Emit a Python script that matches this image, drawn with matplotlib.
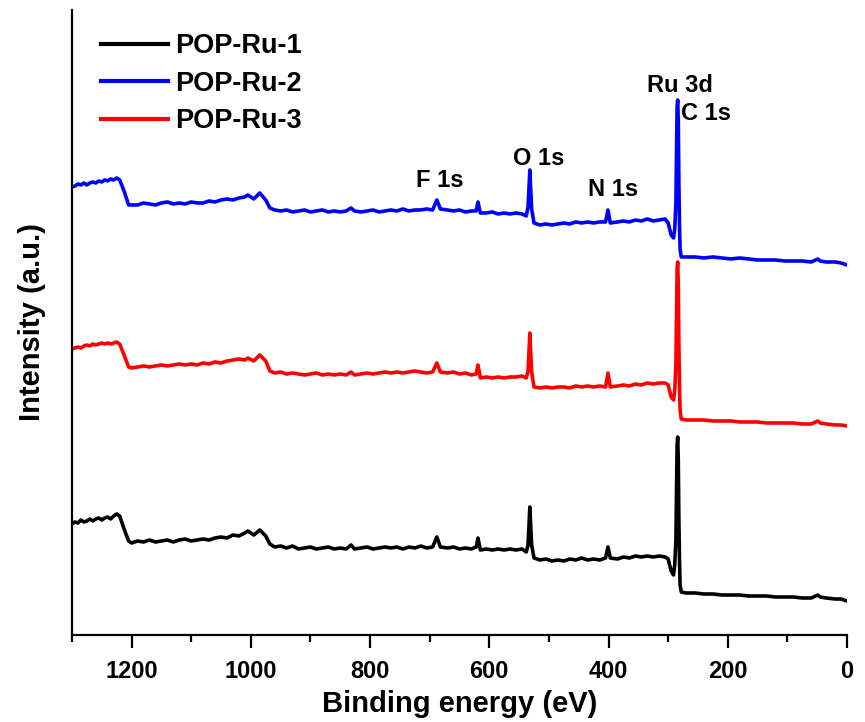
import matplotlib
matplotlib.use("Agg")
import matplotlib.pyplot as plt

plt.rcParams['font.family'] = ['Liberation Sans', 'DejaVu Sans']
plt.rcParams['font.weight'] = 'bold'

# Binding energy grid (eV), high to low
energy = [1300, 1295, 1290, 1285, 1280, 1275, 1270, 1265, 1260, 1255, 1250, 1245, 1240, 1235, 1230, 1225, 1220,
          1212, 1205, 1200, 1190, 1180, 1170, 1160, 1150, 1140, 1130, 1120, 1110, 1100, 1090, 1080, 1070, 1060, 1050, 1040, 1030, 1020, 1010,
          1005, 995, 985, 975, 968, 960, 950, 940, 930, 920, 910, 900, 890, 880, 870, 860, 850, 840, 832, 826,
          815, 805, 795, 785, 775, 765, 755, 745, 735, 725, 715, 705, 695, 688, 682,
          670, 660, 650, 640, 630, 622, 619, 615, 605, 595, 585, 575, 565, 555, 545, 538, 535, 532, 529, 525,
          515, 505, 495, 485, 475, 465, 455, 445, 435, 425, 415, 405, 401, 397,
          385, 375, 365, 355, 345, 335, 325, 315, 305, 300, 295, 291, 289, 287, 286, 285, 284, 283, 282, 281, 280, 278,
          270, 255, 240, 225, 210, 195, 180, 165, 150, 135, 120, 105, 90, 75, 60, 49, 45, 35, 20, 10, 0]

# Survey intensities (a.u.)
pop_ru_1 = [116, 118, 117, 120, 118, 119, 121, 119, 121, 122, 120, 122, 123, 121, 124, 126, 124,
            110, 99, 97, 99, 98, 100, 98, 99, 100, 98, 100, 101, 99, 100, 101, 100, 102, 103, 102, 105, 104, 107,
            109, 105, 110, 104, 96, 93, 94, 92, 94, 91, 92, 93, 91, 92, 93, 91, 92, 91, 95, 91,
            92, 93, 91, 92, 93, 92, 93, 91, 93, 92, 94, 92, 93, 103, 93,
            92, 93, 91, 92, 91, 93, 102, 90, 91, 90, 91, 90, 91, 90, 91, 88, 95, 133, 95, 82,
            80, 81, 79, 80, 79, 81, 80, 82, 80, 81, 80, 82, 93, 82,
            81, 83, 82, 84, 83, 84, 83, 84, 83, 81, 69, 65, 75, 100, 150, 195, 203, 180, 120, 80, 55, 48,
            47, 47, 46, 46, 45, 45, 45, 44, 44, 44, 43, 43, 43, 42, 42, 45, 43, 42, 41, 41, 39]

pop_ru_2 = [116, 117, 119, 118, 120, 118, 120, 121, 120, 122, 121, 123, 122, 124, 123, 125, 123,
            111, 98, 98, 98, 100, 99, 98, 100, 101, 99, 100, 99, 101, 100, 100, 102, 101, 103, 104, 103, 105, 106,
            108, 104, 110, 103, 95, 93, 92, 93, 91, 92, 93, 91, 92, 93, 91, 92, 91, 92, 95, 92,
            91, 92, 93, 91, 92, 93, 92, 94, 92, 93, 93, 94, 93, 103, 94,
            93, 92, 93, 91, 92, 92, 101, 90, 90, 91, 89, 90, 89, 90, 89, 87, 96, 133, 94, 80,
            78, 79, 78, 79, 80, 79, 81, 80, 81, 80, 81, 81, 93, 80,
            81, 82, 81, 83, 82, 84, 82, 83, 84, 80, 68, 65, 74, 100, 152, 196, 203, 182, 122, 78, 54, 46,
            46, 46, 45, 46, 45, 44, 45, 44, 43, 43, 43, 42, 42, 42, 41, 44, 42, 41, 41, 40, 38]

pop_ru_3 = [116, 117, 118, 117, 119, 120, 119, 121, 120, 121, 122, 121, 122, 121, 122, 123, 121,
            109, 98, 97, 98, 99, 98, 99, 100, 99, 100, 101, 100, 101, 100, 102, 101, 103, 102, 104, 105, 106, 105,
            107, 104, 110, 104, 94, 92, 93, 91, 92, 91, 90, 91, 92, 90, 91, 90, 91, 90, 93, 90,
            91, 92, 91, 92, 93, 92, 93, 92, 93, 94, 93, 92, 93, 102, 93,
            92, 93, 91, 92, 90, 91, 100, 87, 88, 87, 88, 87, 88, 88, 89, 87, 94, 132, 93, 78,
            77, 78, 77, 78, 78, 77, 79, 78, 79, 78, 79, 78, 92, 78,
            79, 80, 79, 81, 80, 82, 81, 82, 82, 80, 68, 65, 74, 100, 151, 196, 203, 181, 121, 79, 55, 46,
            45, 45, 45, 44, 44, 44, 43, 43, 43, 42, 42, 42, 42, 41, 41, 44, 42, 41, 40, 40, 39]

series = [pop_ru_1, pop_ru_2, pop_ru_3]
labels = ['POP-Ru-1', 'POP-Ru-2', 'POP-Ru-3']
colors = ['#000000', '#0000ff', '#ff0000']
offsets = [0, 337, 175]

# Peak assignments: (label, energy, height)
peak_labels = ['F 1s', 'O 1s', 'N 1s', 'Ru 3d', 'C 1s']
peak_x = [683, 517, 392, 280, 236]
peak_y = [459, 481, 450, 554, 526]

fig = plt.figure(figsize=(8.65, 7.22), dpi=100)
ax = fig.add_axes([0.0832, 0.1205, 0.8960, 0.8657])

for vals, lab, col, off in zip(series, labels, colors, offsets):
    ax.plot(energy, [v + off for v in vals], color=col, lw=2.6, label=lab,
            solid_joinstyle='round')

for t, x, y in zip(peak_labels, peak_x, peak_y):
    ax.text(x, y, t, ha='center', va='center', fontsize=17, fontweight='bold')

ax.set_xlim(1300, 0)
ax.set_ylim(5, 630)
ax.set_xticks([1200, 1000, 800, 600, 400, 200, 0])
ax.set_xticks(range(1300, -1, -100), minor=True)
ax.set_yticks([])
ax.spines['top'].set_visible(False)
ax.spines['right'].set_visible(False)
for s in ('left', 'bottom'):
    ax.spines[s].set_linewidth(1.6)
ax.tick_params(axis='x', which='major', direction='out', length=9.5, width=1.6,
               labelsize=17, pad=8.5)
ax.tick_params(axis='x', which='minor', direction='out', length=5, width=1.6)
for lbl in ax.get_xticklabels():
    lbl.set_fontweight('bold')

ax.set_xlabel('Binding energy (eV)', fontsize=21, fontweight='bold', labelpad=5)
ax.set_ylabel('Intensity (a.u.)', fontsize=21, fontweight='bold', labelpad=19)

leg = ax.legend(loc='upper left', bbox_to_anchor=(0.016, 0.989), frameon=False,
                fontsize=19.5, handlelength=2.5, handletextpad=0.26,
                labelspacing=0.43, borderaxespad=0.2)
for line in leg.get_lines():
    line.set_linewidth(3)
for txt in leg.get_texts():
    txt.set_fontweight('bold')

fig.savefig('out.png', dpi=100)
